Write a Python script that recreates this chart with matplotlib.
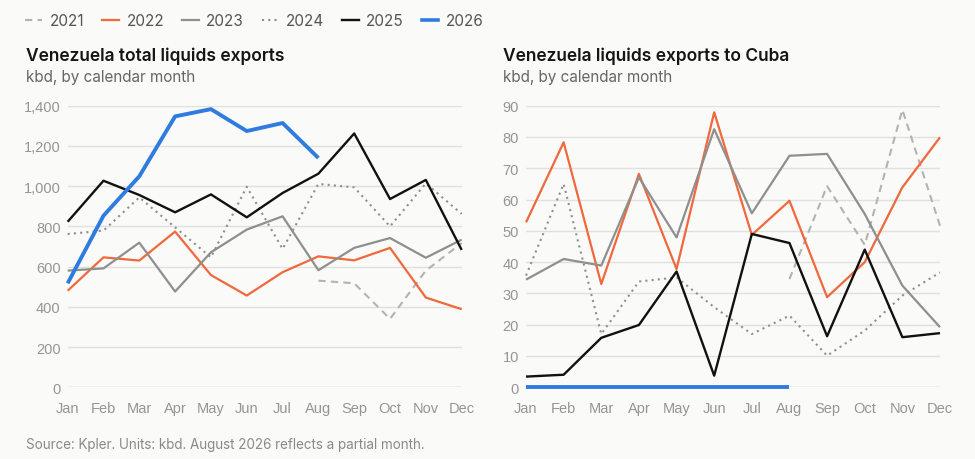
import matplotlib
matplotlib.use("Agg")
import matplotlib.pyplot as plt
from matplotlib.lines import Line2D

months = ["Jan", "Feb", "Mar", "Apr", "May", "Jun", "Jul", "Aug", "Sep", "Oct", "Nov", "Dec"]
years = ["2021", "2022", "2023", "2024", "2025", "2026"]

# total liquids exports, kbd (None = no data)
total_2021 = [None, None, None, None, None, None, None, 530, 517, 340, 580, 717]
total_2022 = [480, 646, 630, 774, 558, 456, 572, 651, 631, 693, 446, 388]
total_2023 = [580, 591, 719, 476, 671, 784, 850, 582, 693, 742, 644, 734]
total_2024 = [762, 779, 944, 795, 646, 997, 688, 1011, 994, 800, 1014, 862]
total_2025 = [823, 1027, 956, 870, 959, 845, 966, 1062, 1262, 936, 1031, 683]
total_2026 = [517, 853, 1049, 1347, 1383, 1274, 1314, 1140]

# exports to Cuba, kbd
cuba_2021 = [None, None, None, None, None, None, None, 34.6, 64.3, 45.5, 88.7, 51.6]
cuba_2022 = [52.7, 78.3, 33, 68.2, 37.8, 87.9, 48.7, 59.6, 28.8, 40, 63.9, 79.9]
cuba_2023 = [34.4, 41, 38.9, 67.1, 47.9, 82.5, 55.6, 74, 74.6, 55.4, 32.5, 19.2]
cuba_2024 = [35.7, 65, 17, 33.8, 35.1, 25.6, 17, 22.9, 10.1, 18.1, 29.3, 36.7]
cuba_2025 = [3.4, 4, 15.8, 19.9, 37, 3.7, 49, 46.1, 16.3, 44, 16, 17.3]
cuba_2026 = [0, 0, 0, 0, 0, 0, 0, 0]

styles = {
    "2021": dict(color="#b3b3b3", lw=1.5, dashes=(3.5, 2.5)),
    "2022": dict(color="#f0683c", lw=1.6),
    "2023": dict(color="#8f8f8f", lw=1.6),
    "2024": dict(color="#8f8f8f", lw=1.5, dashes=(1, 2)),
    "2025": dict(color="#111111", lw=1.7),
    "2026": dict(color="#2f7be0", lw=2.8),
}

bg = "#fafaf8"
plt.rcParams["font.family"] = ["Liberation Sans", "DejaVu Sans"]

fig = plt.figure(figsize=(9.75, 4.6), dpi=100)
fig.patch.set_facecolor(bg)


def draw_panel(ax, series, ymax, ystep, fmt):
    ax.set_facecolor(bg)
    for yr, vals in zip(years, series):
        xs = [i for i, v in enumerate(vals) if v is not None]
        ys = [v for v in vals if v is not None]
        ax.plot(xs, ys, solid_capstyle="butt", dash_capstyle="butt",
                clip_on=False, zorder=3, **styles[yr])
    ax.set_xlim(0, 11)
    ax.set_ylim(0, ymax)
    ticks = list(range(0, ymax + 1, ystep))
    ax.set_yticks(ticks)
    ax.set_yticklabels([fmt(t) for t in ticks])
    ax.set_xticks(range(12))
    ax.set_xticklabels(months)
    for t in ticks:
        ax.axhline(t, color="#bdbdbd" if t == 0 else "#e0e0dc", lw=1, zorder=1)
    for s in ax.spines.values():
        s.set_visible(False)
    ax.tick_params(length=0, labelsize=10.5, colors="#959595", pad=5)
    ax.tick_params(axis="x", pad=10)


ax1 = fig.add_axes([0.0694, 0.156, 0.4041, 0.612])
draw_panel(ax1, [total_2021, total_2022, total_2023, total_2024, total_2025, total_2026],
           1400, 200, lambda v: f"{v:,}")

ax2 = fig.add_axes([0.5395, 0.156, 0.4246, 0.612])
draw_panel(ax2, [cuba_2021, cuba_2022, cuba_2023, cuba_2024, cuba_2025, cuba_2026],
           90, 10, lambda v: f"{v}")

# titles
fig.text(0.027, 0.878, "Venezuela total liquids exports", family="Inter",
         weight="semibold", fontsize=12.5, color="#151515", va="center")
fig.text(0.027, 0.832, "kbd, by calendar month", family="Inter",
         fontsize=11, color="#666666", va="center")
fig.text(0.516, 0.878, "Venezuela liquids exports to Cuba", family="Inter",
         weight="semibold", fontsize=12.5, color="#151515", va="center")
fig.text(0.516, 0.832, "kbd, by calendar month", family="Inter",
         fontsize=11, color="#666666", va="center")

fig.text(0.027, 0.033, "Source: Kpler. Units: kbd. August 2026 reflects a partial month.",
         family="Inter", fontsize=9.7, color="#8a8a8a", va="center")

handles = [Line2D([], [], **styles[yr]) for yr in years]
handles[-1].set_linewidth(2.6)
leg = fig.legend(handles, years, loc="center left", bbox_to_anchor=(0.012, 0.953),
                 ncol=6, frameon=False, handlelength=1.1, handletextpad=0.5,
                 columnspacing=1.15, prop={"family": "Inter", "size": 11})
for t in leg.get_texts():
    t.set_color("#555555")

fig.savefig("out.png", dpi=100, facecolor=bg)
